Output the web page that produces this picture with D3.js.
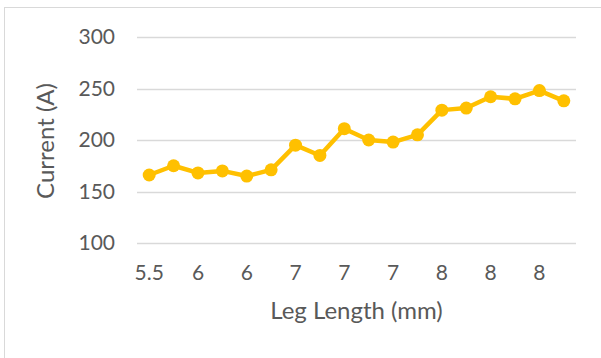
<!DOCTYPE html>
<html>
<head>
<meta charset="utf-8">
<script src="https://cdn.jsdelivr.net/npm/d3@7"></script>
<style>
    body { margin: 0; background: #fff; }
    text { font-family: Lato, "Open Sans", sans-serif; fill: #595959; }
</style>
</head>
<body>
<div id="chart"></div>
<script>
// Current per leg length sample (one point per category)
const current = [166, 175, 168, 170, 165, 171, 195, 185, 211, 200, 198, 205, 229, 231, 242, 240, 248, 238];
// only every other category gets a label in the original
const xTickLabels = ['5.5', '6', '6', '7', '7', '7', '8', '8', '8'];
const yTicks = [100, 150, 200, 250, 300];

const width = 601;
const height = 358;
const plot = {left: 137, right: 576, top: 37, bottom: 243};

const svg = d3.select('#chart').append('svg')
    .attr('width', width)
    .attr('height', height);

// chart area border (only top and left edges show in the crop)
svg.append('rect')
    .attr('x', 4.5)
    .attr('y', 7.5)
    .attr('width', width + 10)
    .attr('height', height + 10)
    .attr('fill', '#fff')
    .attr('stroke', '#d9d9d9');

const x = d3.scaleBand()
    .domain(current.map((d, i) => i))
    .range([plot.left, plot.right]);

const y = d3.scaleLinear()
    .domain([100, 300])
    .range([plot.bottom, plot.top]);

// gridlines
svg.append('g')
    .selectAll('line')
    .data(yTicks)
    .enter()
.append('line')
    .attr('x1', plot.left)
    .attr('x2', plot.right)
    .attr('y1', (d) => { return Math.round(y(d)) + 0.5 })
    .attr('y2', (d) => { return Math.round(y(d)) + 0.5 })
    .attr('stroke', '#d9d9d9')
    .attr('stroke-width', 1.3);

const yAxis = svg.append('g')
    .attr('transform', 'translate(' + plot.left + ',0)')
    .call(d3.axisLeft(y).tickValues(yTicks).tickSize(0).tickPadding(22));
yAxis.select('.domain').remove();
yAxis.selectAll('text')
    .style('font-size', '21px')
    .attr('fill', '#595959')
    .style('font-family', 'Lato, sans-serif');

const xAxis = svg.append('g')
    .attr('transform', 'translate(0,' + plot.bottom + ')')
    .call(d3.axisBottom(x)
        .tickValues(x.domain().filter((i) => { return i % 2 === 0 }))
        .tickFormat((i) => { return xTickLabels[i / 2] })
        .tickSize(0)
        .tickPadding(22));
xAxis.select('.domain').remove();
xAxis.selectAll('text')
    .style('font-size', '21px')
    .attr('fill', '#595959')
    .style('font-family', 'Lato, sans-serif');

const line = d3.line()
    .x((d, i) => { return x(i) + x.bandwidth() / 2 })
    .y((d) => { return y(d) });

svg.append('path')
    .datum(current)
    .attr('d', line)
    .attr('fill', 'none')
    .attr('stroke', '#ffc000')
    .attr('stroke-width', 4.5)
    .attr('stroke-linejoin', 'round');

svg.append('g')
    .selectAll('circle')
    .data(current)
    .enter()
.append('circle')
    .attr('cx', (d, i) => { return x(i) + x.bandwidth() / 2 })
    .attr('cy', (d) => { return y(d) })
    .attr('r', 6.5)
    .attr('fill', '#ffc000');

// axis titles
svg.append('text')
    .attr('x', (plot.left + plot.right) / 2)
    .attr('y', 319)
    .attr('text-anchor', 'middle')
    .style('font-size', '24px')
    .text('Leg Length (mm)');

svg.append('text')
    .attr('transform', 'translate(54,' + ((plot.top + plot.bottom) / 2 + 1) + ') rotate(-90)')
    .attr('text-anchor', 'middle')
    .style('font-size', '24px')
    .text('Current (A)');
</script>
</body>
</html>
